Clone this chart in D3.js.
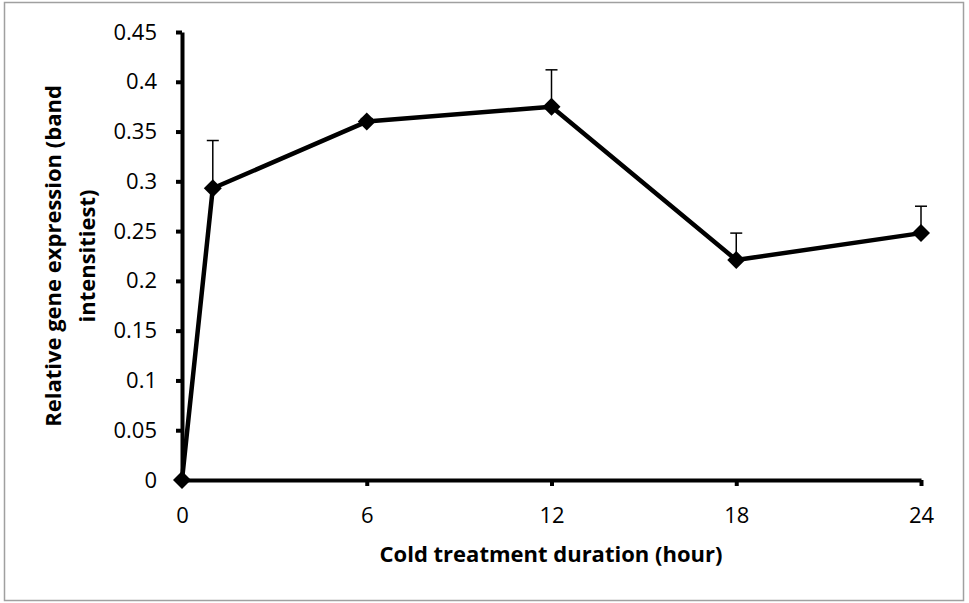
<!DOCTYPE html>
<html>
<head>
<meta charset="utf-8">
<script src="https://cdn.jsdelivr.net/npm/d3@7"></script>
<style>
  html, body { margin: 0; padding: 0; background: #fff; }
  svg { display: block; font-family: "Open Sans", sans-serif; }
</style>
</head>
<body>
<div id="chart"></div>
<script>
// hours of cold treatment
const hours = [0, 1, 6, 12, 18, 24];
// relative band intensity
const expression = [0, 0.293, 0.36, 0.375, 0.221, 0.248];
// upward error bar size
const errors = [0, 0.048, 0.003, 0.037, 0.027, 0.027];
const xTicks = [0, 6, 12, 18, 24];
const yTicks = [0, 0.05, 0.1, 0.15, 0.2, 0.25, 0.3, 0.35, 0.4, 0.45];

const width = 969;
const height = 603;

const svg = d3
  .select("#chart")
  .append("svg")
  .attr("width", width)
  .attr("height", height);

// outer frame
svg
  .append("rect")
  .attr("x", 4.5)
  .attr("y", 2.5)
  .attr("width", 959)
  .attr("height", 598)
  .attr("fill", "#fff")
  .attr("stroke", "#a0a0a0")
  .attr("stroke-width", 1.5);

const x = d3.scaleLinear().domain([0, 24]).range([182, 921]);
const y = d3.scaleLinear().domain([0, 0.45]).range([480, 32]);

const yAxis = svg
  .append("g")
  .attr("transform", `translate(${x(0)},0)`)
  .call(
    d3
      .axisLeft(y)
      .tickValues(yTicks)
      .tickFormat((d) => String(+d.toFixed(2)))
      .tickSize(6)
      .tickSizeOuter(0)
      .tickPadding(19),
  );

const xAxis = svg
  .append("g")
  .attr("transform", `translate(0,${y(0)})`)
  .call(
    d3
      .axisBottom(x)
      .tickValues(xTicks)
      .tickSize(6)
      .tickSizeOuter(0)
      .tickPadding(21),
  );

[yAxis, xAxis].forEach((ax) => {
  ax.select(".domain").attr("stroke", "#000").attr("stroke-width", 4);
  ax.selectAll(".tick line").attr("stroke", "#000").attr("stroke-width", 4);
  ax.selectAll(".tick text")
    .attr("fill", "#000")
    .style("font-size", "22px")
    .style("font-family", "'Open Sans', sans-serif");
});

// error bars (upward only)
const errG = svg.append("g");
hours.forEach((h, i) => {
  if (errors[i] <= 0) return;
  const top = y(expression[i] + errors[i]);
  errG
    .append("line")
    .attr("x1", x(h))
    .attr("x2", x(h))
    .attr("y1", y(expression[i]))
    .attr("y2", top)
    .attr("stroke", "#000")
    .attr("stroke-width", 1.5);
  errG
    .append("line")
    .attr("x1", x(h) - 6)
    .attr("x2", x(h) + 6)
    .attr("y1", top)
    .attr("y2", top)
    .attr("stroke", "#000")
    .attr("stroke-width", 1.5);
});

const points = hours.map((h, i) => [h, expression[i]]);

svg
  .append("path")
  .datum(points)
  .attr("fill", "none")
  .attr("stroke", "#000")
  .attr("stroke-width", 4.5)
  .attr("stroke-linejoin", "round")
  .attr(
    "d",
    d3
      .line()
      .x((d) => x(d[0]))
      .y((d) => y(d[1])),
  );

svg
  .append("g")
  .selectAll("path")
  .data(points)
  .join("path")
  .attr("transform", (d) => `translate(${x(d[0])},${y(d[1])})`)
  .attr("d", "M0,-9L9,0L0,9L-9,0Z")
  .attr("fill", "#000");

// axis titles
svg
  .append("text")
  .attr("x", 551)
  .attr("y", 562)
  .attr("text-anchor", "middle")
  .style("font-size", "22px")
  .style("font-weight", "bold")
  .text("Cold treatment duration (hour)");

const yTitle = svg
  .append("text")
  .attr("transform", "translate(0,256) rotate(-90)")
  .attr("text-anchor", "middle")
  .style("font-size", "22px")
  .style("font-weight", "bold");
yTitle.append("tspan").attr("x", 0).attr("y", 61).text("Relative gene expression (band");
yTitle.append("tspan").attr("x", 0).attr("y", 95).text("intensitiest)");
</script>
</body>
</html>
